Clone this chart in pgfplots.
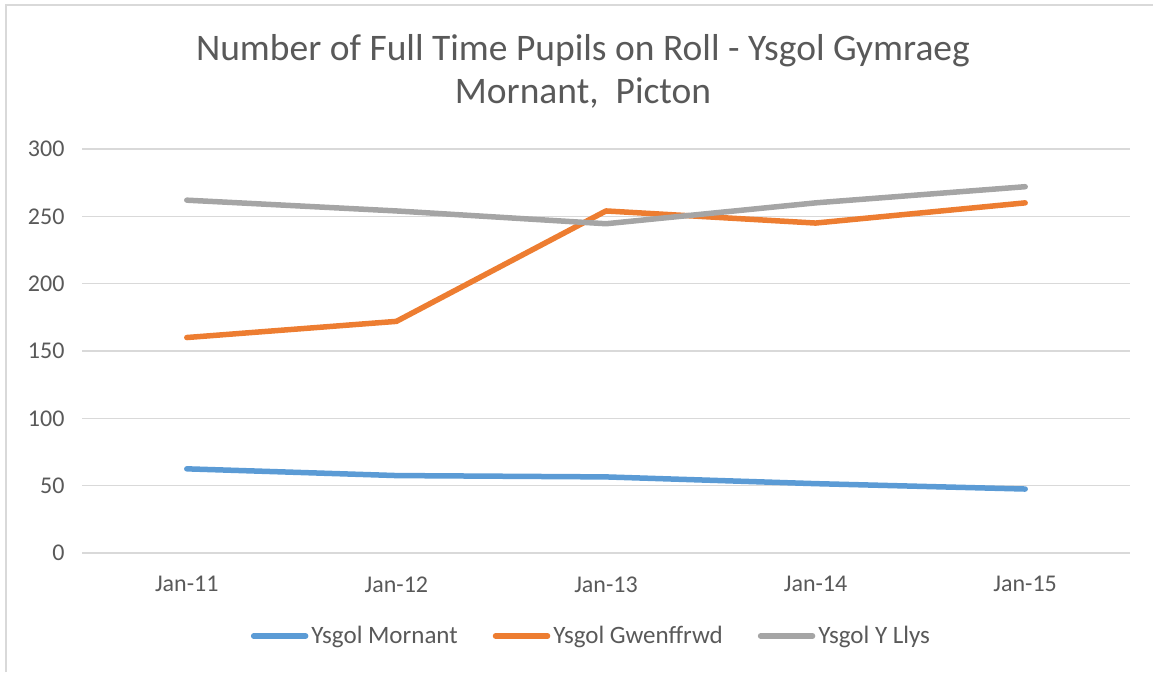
\documentclass[border=0pt]{standalone}
\usepackage{pgfplots}
\pgfplotsset{compat=1.18}
\usepackage{fontspec}
\setmainfont{Carlito}
\definecolor{cblue}{HTML}{5B9BD5}
\definecolor{corange}{HTML}{ED7D31}
\definecolor{cgray}{HTML}{A5A5A5}
\definecolor{ctext}{HTML}{595959}
\definecolor{cgrid}{HTML}{D9D9D9}
\begin{document}
\begin{tikzpicture}[x=1pt,y=1pt]
\useasboundingbox (0,0) rectangle (1153,672);
\draw[cgrid, line width=1.5pt] (6,0) -- (6,667) -- (1153,667);
\node[text=ctext, font=\fontsize{37.5}{45}\selectfont, align=center, anchor=base] at (583,611) {Number of Full Time Pupils on Roll - Ysgol Gymraeg};
\node[text=ctext, font=\fontsize{37.5}{45}\selectfont, align=center, anchor=base] at (583,568) {Mornant,\ \ Picton};
\begin{axis}[
  at={(82pt,119pt)}, anchor=south west,
  scale only axis, width=1048pt, height=404pt,
  xmin=-0.5, xmax=4.5, ymin=0, ymax=300,
  xtick={0,1,2,3,4},
  xticklabels={Jan-11,Jan-12,Jan-13,Jan-14,Jan-15},
  ytick={0,50,100,150,200,250,300},
  ymajorgrids, grid style={cgrid, line width=1.5pt},
  axis line style={draw=none},
  axis x line*=bottom,
  major tick length=0pt,
  tick style={draw=none},
  ticklabel style={text=ctext, font=\fontsize{24}{29}\selectfont},
  /pgf/number format/assume math mode=true,
  yticklabel style={xshift=-14pt},
  xticklabel style={yshift=-20pt},
  clip=false,
  legend columns=3,
  legend style={at={(0.4866,-0.2054)}, anchor=center, draw=none, fill=none,
    font=\fontsize{25}{30}\selectfont, text=ctext,
    /tikz/every even column/.append style={column sep=32pt},
    /tikz/every odd column/.append style={column sep=0pt},
    inner sep=0pt,
    nodes={inner sep=3pt}},
  legend image code/.code={\draw[#1, line cap=round] (0pt,0pt) -- (52pt,0pt);},
]
\addplot[cblue, line width=5.5pt, line cap=round, line join=round] coordinates {(0,62.5) (1,57.5) (2,56.5) (3,51.5) (4,47.5)};
\addlegendentry{Ysgol Mornant}
\addplot[corange, line width=5.5pt, line cap=round, line join=round] coordinates {(0,160) (1,172) (2,254) (3,245) (4,260)};
\addlegendentry{Ysgol Gwenffrwd}
\addplot[cgray, line width=5.5pt, line cap=round, line join=round] coordinates {(0,262) (1,254) (2,244.5) (3,260) (4,272)};
\addlegendentry{Ysgol Y Llys}
\end{axis}
\end{tikzpicture}
\end{document}
